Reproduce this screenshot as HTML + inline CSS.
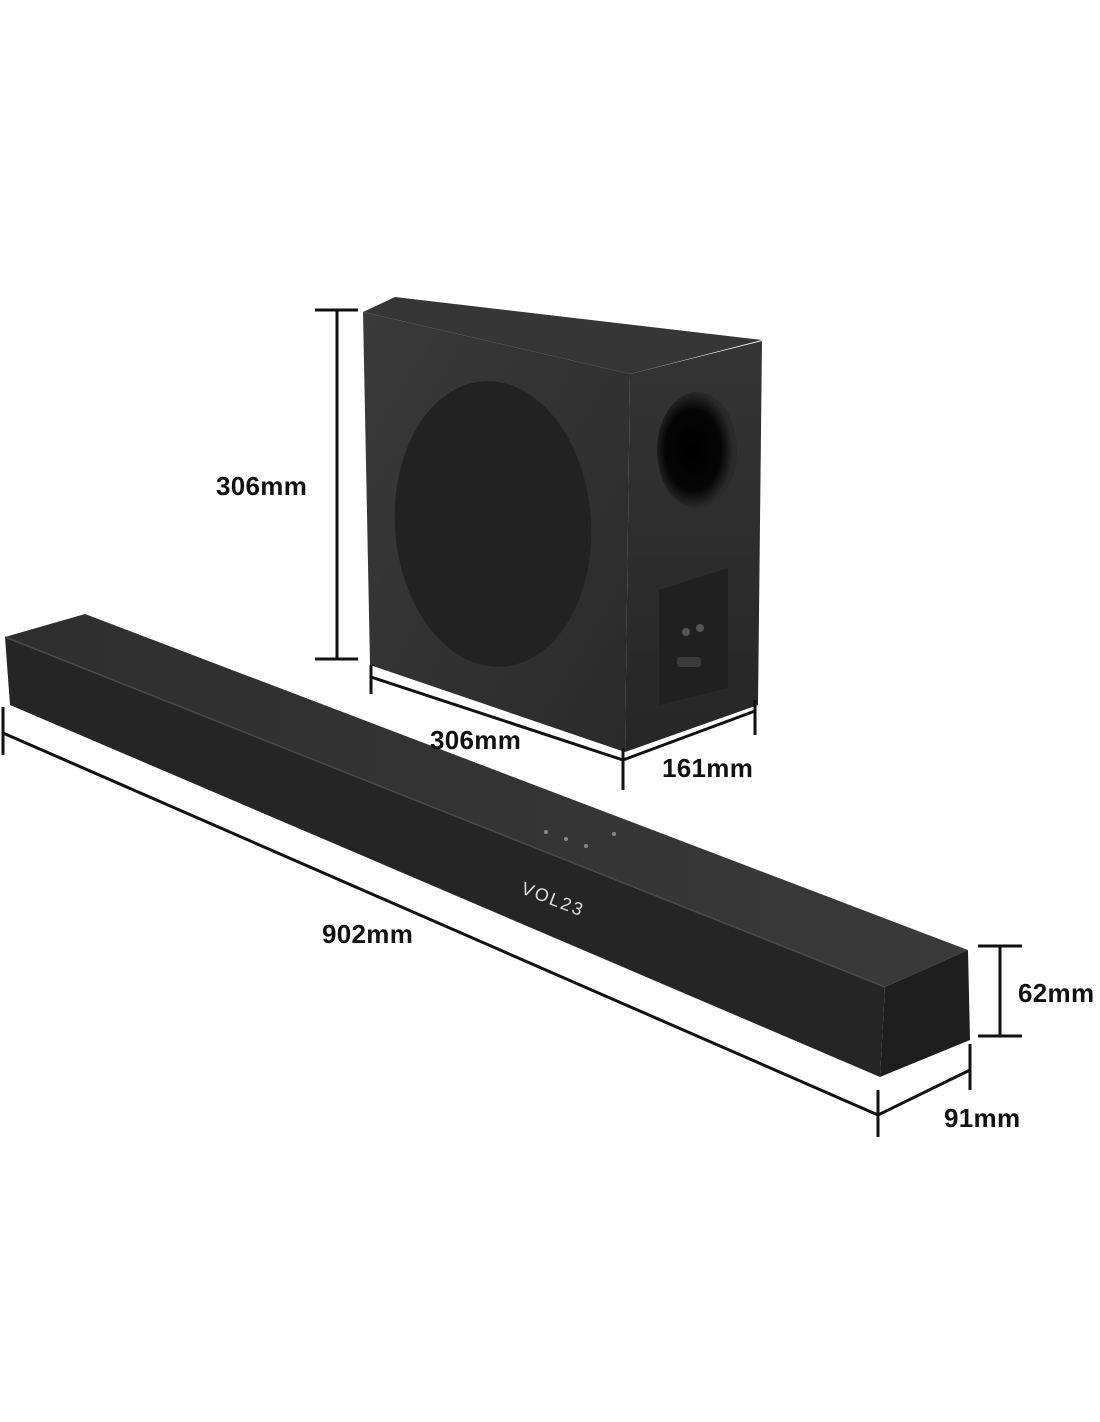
<!DOCTYPE html>
<html><head><style>
html,body{margin:0;padding:0;background:#fff;}
svg{display:block}
text{font-family:"Liberation Sans",sans-serif;font-weight:bold;font-size:26px;fill:#111;letter-spacing:0.3px}
</style></head><body>
<svg width="1100" height="1422" viewBox="0 0 1100 1422" xmlns="http://www.w3.org/2000/svg">
<defs>
<linearGradient id="sf" x1="0" y1="0" x2="1" y2="1">
<stop offset="0" stop-color="#3a3a3a"/><stop offset="1" stop-color="#2a2a2a"/></linearGradient>
<linearGradient id="ss" x1="0" y1="0" x2="0" y2="1">
<stop offset="0" stop-color="#343434"/><stop offset="1" stop-color="#262626"/></linearGradient>
<linearGradient id="bt" x1="0" y1="0" x2="1" y2="0">
<stop offset="0" stop-color="#2e2e2e"/><stop offset="1" stop-color="#3a3a3a"/></linearGradient>
<radialGradient id="port" cx="0.45" cy="0.5" r="0.5">
<stop offset="0" stop-color="#000"/><stop offset="0.7" stop-color="#050505"/><stop offset="1" stop-color="#2a2a2a"/></radialGradient>
</defs>

<!-- Subwoofer -->
<polygon points="363,312 395,297 762,340 630,374" fill="#363636"/>
<polygon points="363,312 630,374 625,752 370,665" fill="url(#sf)"/>
<polygon points="630,374 762,341 758,705 625,752" fill="url(#ss)"/>
<ellipse cx="493" cy="524" rx="98" ry="143" transform="rotate(-4 493 524)" fill="#222"/>
<ellipse cx="697" cy="450" rx="40" ry="58" fill="url(#port)"/>
<polygon points="659,590 728,568 728,688 659,705" fill="#202020"/>
<circle cx="686" cy="632" r="4" fill="#555"/><circle cx="700" cy="628" r="4" fill="#555"/>
<rect x="677" y="657" width="24" height="10" rx="3" fill="#3a3a3a"/>

<!-- Soundbar -->
<polygon points="5,637 85,614 968,950 885,987" fill="url(#bt)"/>
<polygon points="5,637 885,987 880,1077 10,705" fill="#252525"/>
<polygon points="885,987 968,950 970,1040 880,1077" fill="#1e1e1e"/>
<line x1="5" y1="637" x2="885" y2="987" stroke="#4a4a4a" stroke-width="1.5"/>
<g fill="#888"><circle cx="546" cy="832" r="2"/><circle cx="566" cy="839" r="2"/><circle cx="586" cy="846" r="2"/><circle cx="614" cy="834" r="2"/></g>
<text x="0" y="0" transform="translate(520,893) rotate(21)" style="font-size:18px;font-weight:normal;fill:#ddd;letter-spacing:2px">VOL23</text>

<!-- Dimensions -->
<g stroke="#111" stroke-width="3" fill="none">
<line x1="337" y1="310" x2="337" y2="659"/><line x1="315" y1="310" x2="358" y2="310"/><line x1="315" y1="659" x2="358" y2="659"/>
<line x1="371" y1="677" x2="623" y2="760"/><line x1="371" y1="665" x2="371" y2="694"/>
<line x1="623" y1="760" x2="755" y2="711"/><line x1="623" y1="748" x2="623" y2="790"/><line x1="755" y1="700" x2="755" y2="735"/>
<line x1="3" y1="733" x2="878" y2="1115"/><line x1="3" y1="707" x2="3" y2="755"/>
<line x1="878" y1="1115" x2="970" y2="1070"/><line x1="878" y1="1090" x2="878" y2="1137"/><line x1="970" y1="1044" x2="970" y2="1090"/>
<line x1="1000" y1="946" x2="1000" y2="1036"/><line x1="978" y1="946" x2="1022" y2="946"/><line x1="978" y1="1036" x2="1022" y2="1036"/>
</g>
<text x="216" y="495">306mm</text>
<text x="430" y="749">306mm</text>
<text x="662" y="777">161mm</text>
<text x="322" y="943">902mm</text>
<text x="1018" y="1002">62mm</text>
<text x="944" y="1127">91mm</text>
</svg>
</body></html>
